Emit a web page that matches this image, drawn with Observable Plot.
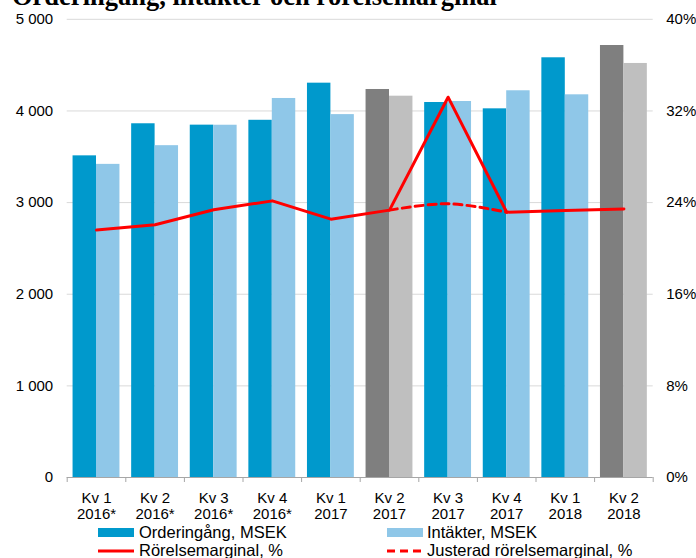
<!DOCTYPE html>
<html>
<head>
<meta charset="utf-8">
<script src="https://cdn.jsdelivr.net/npm/d3@7"></script>
<script src="https://cdn.jsdelivr.net/npm/@observablehq/plot@0.6"></script>
<style>
  html, body { margin: 0; padding: 0; background: #fff; }
  #wrap { position: relative; width: 696px; height: 558px; overflow: hidden; }
  #overlay { position: absolute; left: 0; top: 0; pointer-events: none; }
</style>
</head>
<body>
<div id="wrap"></div>
<script>
const categories = ["Kv 1\n2016*", "Kv 2\n2016*", "Kv 3\n2016*", "Kv 4\n2016*", "Kv 1\n2017", "Kv 2\n2017", "Kv 3\n2017", "Kv 4\n2017", "Kv 1\n2018", "Kv 2\n2018"];
const orders = [3510, 3860, 3845, 3898, 4303, 4234, 4092, 4023, 4580, 4714];
const revenue = [3417, 3621, 3844, 4136, 3960, 4161, 4103, 4220, 4176, 4518];
const margin = [21.6, 22.06, 23.37, 24.15, 22.55, 23.34, 33.2, 23.16, 23.3, 23.45];
const adjMargin = [null, null, null, null, null, 23.34, 23.9, 23.16, null, null];
const grayIdx = [5, 9];
const leftTicks = [0, 1000, 2000, 3000, 4000, 5000];
const rightTickLabels = ["0%", "8%", "16%", "24%", "32%", "40%"];
const title = "Orderingång, intäkter och rörelsemarginal";
const legendLabels = ["Orderingång, MSEK", "Intäkter, MSEK", "Rörelsemarginal, %", "Justerad rörelsemarginal, %"];

const colBlue = "#0099cc", colLight = "#8fc7e8", colDark = "#7f7f7f", colGray = "#bfbfbf", colRed = "#ff0000";
const pctToY = 5000 / 40;

const rows = categories.map((c, i) => ({
  i, c, orders: orders[i], revenue: revenue[i], margin: margin[i],
  adj: adjMargin[i], gray: grayIdx.includes(i)
}));
const adjRows = rows.filter(d => d.adj != null);

const chart = Plot.plot({
  width: 696,
  height: 558,
  marginLeft: 66.7,
  marginRight: 43.3,
  marginTop: 18.8,
  marginBottom: 81,
  style: { fontFamily: "'Liberation Sans', Arial, sans-serif", fontSize: "15px", color: "#000", background: "transparent" },
  x: { type: "linear", domain: [-0.5, 9.5], label: null },
  y: { domain: [0, 5000], label: null },
  marks: [
    Plot.gridY({ ticks: leftTicks.slice(1), stroke: "#d9d9d9", strokeOpacity: 1 }),
    Plot.rectY(rows, { x1: d => d.i - 0.4, x2: d => d.i, y: "orders", fill: d => d.gray ? colDark : colBlue }),
    Plot.rectY(rows, { x1: d => d.i, x2: d => d.i + 0.4, y: "revenue", fill: d => d.gray ? colGray : colLight }),
    Plot.ruleY([0], { stroke: "#a6a6a6", strokeWidth: 1.2 }),
    Plot.axisX({ ticks: d3.range(11).map(k => k - 0.5), tickFormat: () => "", tickSize: 5, stroke: "#a6a6a6", strokeOpacity: 1 }),
    Plot.axisX({ ticks: d3.range(10), tickSize: 0, tickPadding: 13, tickFormat: i => categories[i], fontSize: 15, lineHeight: 1.13, label: null }),
    Plot.axisY({ ticks: leftTicks, tickSize: 0, tickPadding: 14, tickFormat: d => d3.format(",")(d).replace(/,/g, " "), fontSize: 15, label: null }),
    Plot.axisY({ anchor: "right", ticks: leftTicks, tickSize: 0, tickPadding: 13, tickFormat: (d, k) => rightTickLabels[leftTicks.indexOf(d)], fontSize: 15, label: null }),
    Plot.line(adjRows, { x: "i", y: d => d.adj * pctToY, stroke: colRed, strokeWidth: 3, strokeDasharray: "8,5", curve: "catmull-rom" }),
    Plot.line(rows, { x: "i", y: d => d.margin * pctToY, stroke: colRed, strokeWidth: 3, strokeLinejoin: "round" })
  ]
});

const wrap = document.getElementById("wrap");
wrap.appendChild(chart);

// Title and legend overlay
const svg = d3.select(wrap).append("svg")
  .attr("id", "overlay").attr("width", 696).attr("height", 558);

svg.append("text")
  .attr("x", 12).attr("y", 5)
  .attr("font-family", "'Liberation Serif', 'Times New Roman', serif")
  .attr("font-weight", "bold").attr("font-size", 26.5)
  .attr("fill", "#000").text(title);

const lg = svg.append("g").attr("font-family", "'Liberation Sans', Arial, sans-serif").attr("font-size", 16.5).attr("fill", "#000");
lg.append("rect").attr("x", 98).attr("y", 528).attr("width", 36).attr("height", 9).attr("fill", colBlue);
lg.append("text").attr("x", 139).attr("y", 537.5).text(legendLabels[0]);
lg.append("rect").attr("x", 387).attr("y", 528).attr("width", 36).attr("height", 9).attr("fill", colLight);
lg.append("text").attr("x", 427).attr("y", 537.5).text(legendLabels[1]);
lg.append("line").attr("x1", 98).attr("x2", 134).attr("y1", 551).attr("y2", 551).attr("stroke", colRed).attr("stroke-width", 3);
lg.append("text").attr("x", 139).attr("y", 555.5).text(legendLabels[2]);
lg.append("line").attr("x1", 387).attr("x2", 423).attr("y1", 551).attr("y2", 551).attr("stroke", colRed).attr("stroke-width", 3).attr("stroke-dasharray", "8,5");
lg.append("text").attr("x", 427).attr("y", 555.5).text(legendLabels[3]);
</script>
</body>
</html>
